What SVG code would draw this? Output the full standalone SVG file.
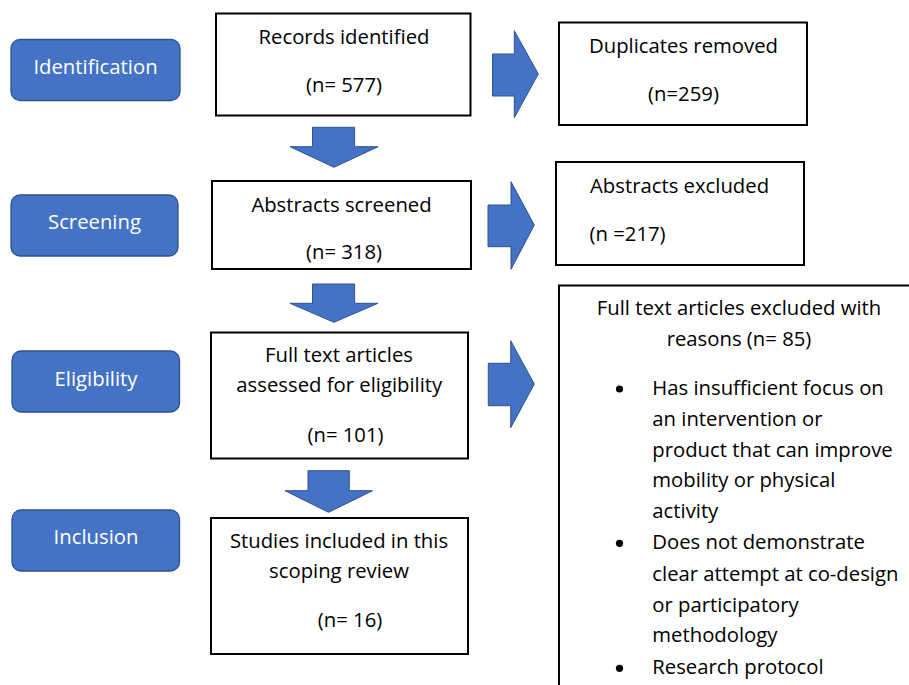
<svg xmlns="http://www.w3.org/2000/svg" width="909" height="685" viewBox="0 0 909 685">
<style>
  text { font-family: "Open Sans", "Liberation Sans", sans-serif; font-size: 20.3px; fill: #000; }
  .stage rect { fill: #4472C4; stroke: #2F528F; stroke-width: 1.3; }
  .stage text { fill: #fff; text-anchor: middle; }
  .box rect { fill: #fff; stroke: #000; stroke-width: 2; }
  .c { text-anchor: middle; }
  .arrow { fill: #4472C4; stroke: #2F528F; stroke-width: 1; }
  .bullet { fill: #000; }
</style>
<rect width="909" height="685" fill="#fff"/>

<g id="stage-identification" class="stage">
  <rect x="11" y="39.5" width="169" height="61" rx="9"/>
  <text x="95.5" y="74">Identification</text>
</g>
<g id="stage-screening" class="stage">
  <rect x="11" y="195" width="167" height="61" rx="9"/>
  <text x="94.5" y="229">Screening</text>
</g>
<g id="stage-eligibility" class="stage">
  <rect x="12" y="351" width="167.5" height="61" rx="9"/>
  <text x="96" y="386">Eligibility</text>
</g>
<g id="stage-inclusion" class="stage">
  <rect x="12" y="510" width="167.5" height="61" rx="9"/>
  <text x="96" y="544">Inclusion</text>
</g>

<g id="records" class="box">
  <rect x="216" y="13.5" width="254.5" height="102"/>
  <text class="c" x="344" y="44">Records identified</text>
  <text class="c" x="344" y="92">(n= 577)</text>
</g>
<g id="duplicates" class="box">
  <rect x="559" y="22.5" width="248" height="102.5"/>
  <text class="c" x="683.5" y="53">Duplicates removed</text>
  <text class="c" x="683.5" y="100.5">(n=259)</text>
</g>
<g id="abstracts-screened" class="box">
  <rect x="212" y="181" width="259" height="88"/>
  <text class="c" x="341.5" y="211.5">Abstracts screened</text>
  <text class="c" x="344" y="259">(n= 318)</text>
</g>
<g id="abstracts-excluded" class="box">
  <rect x="556" y="162" width="248" height="103"/>
  <text x="590" y="193">Abstracts excluded</text>
  <text x="589.5" y="241">(n =217)</text>
</g>
<g id="fulltext-assessed" class="box">
  <rect x="211" y="332.5" width="257" height="126"/>
  <text class="c" x="339" y="361.5">Full text articles</text>
  <text class="c" x="339.3" y="392">assessed for eligibility</text>
  <text class="c" x="345.5" y="441.5">(n= 101)</text>
</g>
<g id="studies-included" class="box">
  <rect x="211" y="518" width="257" height="136"/>
  <text class="c" x="339" y="548">Studies included in this</text>
  <text class="c" x="339" y="578">scoping review</text>
  <text class="c" x="350" y="626.5">(n= 16)</text>
</g>
<g id="fulltext-excluded" class="box">
  <rect x="559" y="285.5" width="420" height="440"/>
  <text class="c" x="739" y="315">Full text articles excluded with</text>
  <text class="c" x="739" y="345.5">reasons (n= 85)</text>
  <circle class="bullet" cx="619.5" cy="389" r="3.6"/>
  <text x="652.3" y="395">Has insufficient focus on</text>
  <text x="652.3" y="426">an intervention or</text>
  <text x="652.3" y="456.7">product that can improve</text>
  <text x="652.3" y="487.3">mobility or physical</text>
  <text x="652.3" y="518.3">activity</text>
  <circle class="bullet" cx="619.5" cy="543.3" r="3.6"/>
  <text x="652.3" y="549.3">Does not demonstrate</text>
  <text x="652.3" y="580.5">clear attempt at co-design</text>
  <text x="652.3" y="611.5">or participatory</text>
  <text x="652.3" y="642.3">methodology</text>
  <circle class="bullet" cx="619.5" cy="668.3" r="3.6"/>
  <text x="652.3" y="674.3">Research protocol</text>
</g>

<g id="connectors">
  <polygon class="arrow" points="312.5,127.3 354.6,127.3 354.6,146.7 378,146.7 334,167.3 290,146.7 312.5,146.7"/>
  <polygon class="arrow" points="312.5,284 354.6,284 354.6,303.3 378,303.3 334,322.3 290,303.3 312.5,303.3"/>
  <polygon class="arrow" points="308,470.7 349.3,470.7 349.3,490.7 372.5,490.7 328.6,512.3 285,490.7 308,490.7"/>
  <polygon class="arrow" points="492.5,54 514.3,54 514.3,30.7 538.3,74 514.3,117.7 514.3,96 492.5,96"/>
  <polygon class="arrow" points="488,205 511,205 511,181.7 534.3,225 511,269.3 511,246.7 488,246.7"/>
  <polygon class="arrow" points="488.3,363.3 510.7,363.3 510.7,340.7 534.3,384 510.7,427.7 510.7,405.7 488.3,405.7"/>
</g>
</svg>
